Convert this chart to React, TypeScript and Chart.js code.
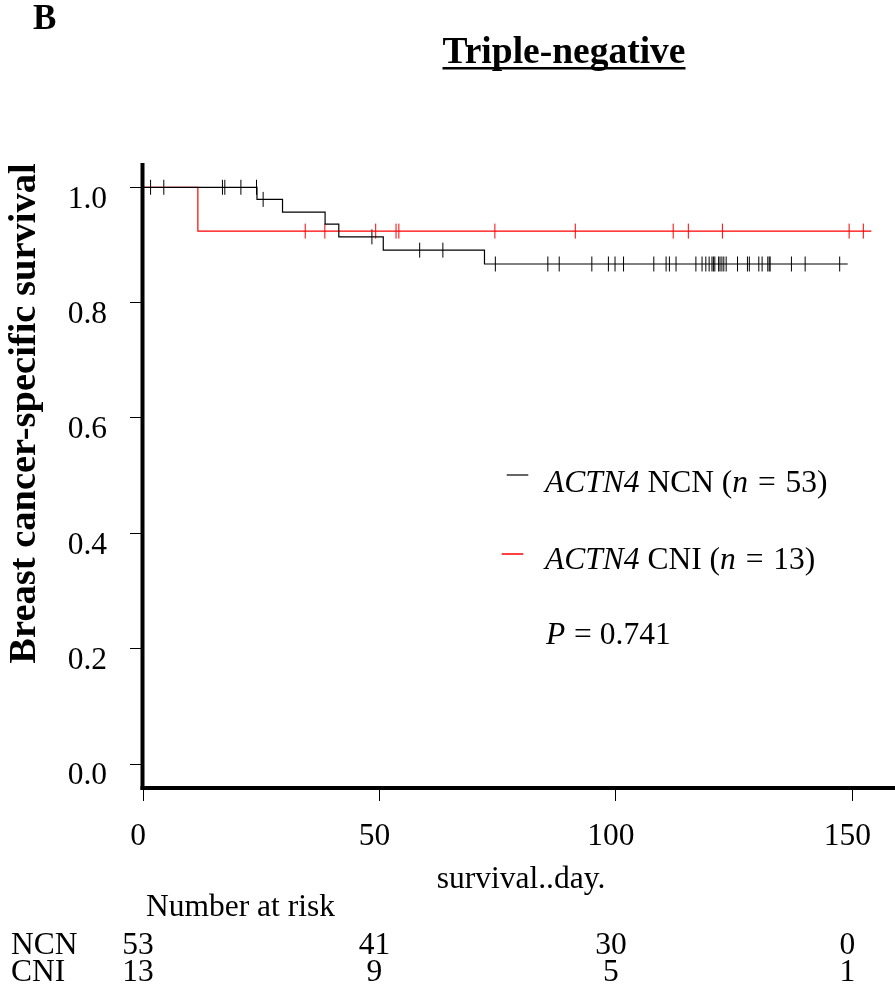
import React, { useEffect, useRef } from "react";
import { Chart, registerables } from "chart.js";

Chart.register(...registerables);

const SERIF = "'Liberation Serif', 'Times New Roman', Times, serif";

// Axis ticks
const X_TICKS = [0, 50, 100, 150];
const Y_TICKS = [0, 0.2, 0.4, 0.6, 0.8, 1.0];

// ACTN4 NCN (black) Kaplan-Meier steps
const NCN_TIMES = [0, 24.1, 29.5, 38.5, 41.4, 50.8, 72.2, 149.0];
const NCN_SURV = [1, 0.979, 0.957, 0.936, 0.914, 0.891, 0.867, 0.867];
const NCN_CENSOR = [
  1.6, 4.4, 16.8, 17.3, 20.7, 24.0, 25.4, 48.4, 58.5, 63.4, 74.5, 85.6, 88.0,
  94.9, 98.4, 99.8, 101.6, 108.0, 110.6, 111.3, 112.7, 116.9, 118.2, 119.0,
  119.7, 120.3, 120.6, 120.9, 121.7, 122.0, 122.4, 122.8, 123.3, 125.7, 127.8,
  128.2, 130.2, 130.9, 132.1, 132.4, 132.6, 137.1, 140.0, 147.3,
];

// ACTN4 CNI (red) Kaplan-Meier steps
const CNI_TIMES = [0, 11.6, 154.0];
const CNI_SURV = [1, 0.924, 0.924];
const CNI_CENSOR = [34.3, 38.45, 49.2, 53.5, 54.1, 74.4, 91.4, 112.1, 115.3, 122.5, 149.3, 152.3];

// Number at risk table
const RISK_TIMES = [0, 50, 100, 150];
const RISK_NCN = [53, 41, 30, 0];
const RISK_CNI = [13, 9, 5, 1];

function survAt(times: number[], surv: number[], t: number): number {
  let v = surv[0];
  for (let i = 0; i < times.length; i++) {
    if (times[i] <= t) v = surv[i];
  }
  return v;
}

type Part = { text: string; italic?: boolean; gapAfter?: number };

function drawRich(ctx: CanvasRenderingContext2D, parts: Part[], x: number, y: number, size: number) {
  let cx = x;
  ctx.textAlign = "left";
  ctx.textBaseline = "alphabetic";
  for (const p of parts) {
    ctx.font = `${p.italic ? "italic " : ""}${size}px ${SERIF}`;
    ctx.fillText(p.text, cx, y);
    cx += ctx.measureText(p.text).width + (p.gapAfter || 0);
  }
}

const FS = 31.5;

const decorPlugin = {
  id: "decor",
  afterDraw(chart: any) {
    const ctx: CanvasRenderingContext2D = chart.ctx;
    const xs = chart.scales.x;
    const area = chart.chartArea;
    ctx.save();
    // L-shaped axes
    ctx.strokeStyle = "#000";
    ctx.lineWidth = 4;
    ctx.lineCap = "butt";
    const ax = xs.getPixelForValue(0) - 0.5;
    ctx.beginPath();
    ctx.moveTo(ax, area.top);
    ctx.lineTo(ax, area.bottom + 2);
    ctx.stroke();
    ctx.beginPath();
    ctx.moveTo(ax - 2, area.bottom);
    ctx.lineTo(chart.width, area.bottom);
    ctx.stroke();

    ctx.fillStyle = "#000";
    ctx.textBaseline = "alphabetic";
    // panel letter
    ctx.font = `bold 35px ${SERIF}`;
    ctx.textAlign = "left";
    ctx.fillText("B", 33, 29);
    // title
    ctx.font = `bold 37.5px ${SERIF}`;
    ctx.textAlign = "center";
    ctx.fillText("Triple-negative", 564, 63);
    const tw = ctx.measureText("Triple-negative").width;
    ctx.fillRect(564 - tw / 2, 67, tw, 2.5);
    // y title
    ctx.save();
    ctx.translate(35, 413.5);
    ctx.rotate(-Math.PI / 2);
    ctx.font = `bold 38.5px ${SERIF}`;
    ctx.textAlign = "center";
    ctx.fillText("Breast cancer-specific survival", 0, 0);
    ctx.restore();
    // x title
    ctx.font = `${FS}px ${SERIF}`;
    ctx.textAlign = "center";
    ctx.fillText("survival..day.", 521, 888);
    // number at risk
    ctx.textAlign = "left";
    ctx.fillText("Number at risk", 146, 916);
    ctx.fillText("NCN", 11, 954);
    ctx.fillText("CNI", 11, 981);
    ctx.textAlign = "center";
    RISK_TIMES.forEach((t, i) => {
      const px = xs.getPixelForValue(t) - 5;
      ctx.fillText(String(RISK_NCN[i]), px, 954);
      ctx.fillText(String(RISK_CNI[i]), px, 981);
    });

    // legend
    ctx.lineWidth = 1.2;
    ctx.strokeStyle = "#000";
    ctx.beginPath();
    ctx.moveTo(506.7, 475);
    ctx.lineTo(528.3, 475);
    ctx.stroke();
    ctx.lineWidth = 1.5;
    ctx.strokeStyle = "#FF0000";
    ctx.beginPath();
    ctx.moveTo(501.7, 554);
    ctx.lineTo(523.3, 554);
    ctx.stroke();
    drawRich(ctx, [
      { text: "ACTN4", italic: true },
      { text: " NCN (" },
      { text: "n", italic: true, gapAfter: 2 },
      { text: " = ", gapAfter: 2 },
      { text: "53)" },
    ], 545, 491.7, FS);
    drawRich(ctx, [
      { text: "ACTN4", italic: true },
      { text: " CNI (" },
      { text: "n", italic: true, gapAfter: 2 },
      { text: " = ", gapAfter: 2 },
      { text: "13)" },
    ], 545, 569.3, FS);
    drawRich(ctx, [
      { text: "P", italic: true, gapAfter: 1 },
      { text: " = ", gapAfter: 0 },
      { text: "0.741" },
    ], 546, 644.3, FS);
    ctx.restore();
  },
};

export default function App() {
  const ref = useRef<HTMLCanvasElement | null>(null);
  useEffect(() => {
    if (!ref.current) return;
    const ncnLine = NCN_TIMES.map((t, i) => ({ x: t, y: NCN_SURV[i] }));
    const cniLine = CNI_TIMES.map((t, i) => ({ x: t, y: CNI_SURV[i] }));
    const ncnCens = NCN_CENSOR.map((t) => ({ x: t, y: survAt(NCN_TIMES, NCN_SURV, t) }));
    const cniCens = CNI_CENSOR.map((t) => ({ x: t, y: survAt(CNI_TIMES, CNI_SURV, t) }));
    const tickFont = { family: SERIF, size: FS };
    const chart = new Chart(ref.current, {
      type: "line",
      data: {
        datasets: [
          { type: "line", data: ncnLine, stepped: true, borderColor: "#000", borderWidth: 1.2, pointRadius: 0, fill: false },
          { type: "line", data: cniLine, stepped: true, borderColor: "#FF0000", borderWidth: 1.2, pointRadius: 0, fill: false },
          { type: "scatter", data: ncnCens, showLine: false, pointStyle: "line", pointRadius: 7.5, pointRotation: 90, borderColor: "#000", borderWidth: 1, backgroundColor: "#000" },
          { type: "scatter", data: cniCens, showLine: false, pointStyle: "line", pointRadius: 7.5, pointRotation: 90, borderColor: "#FF0000", borderWidth: 1, backgroundColor: "#FF0000" },
        ] as any,
      },
      options: {
        animation: false,
        responsive: false,
        maintainAspectRatio: false,
        devicePixelRatio: 1,
        events: [],
        layout: { padding: { top: 163, bottom: 140, left: 0, right: 0 } },
        plugins: { legend: { display: false }, tooltip: { enabled: false }, title: { display: false } },
        scales: {
          x: {
            type: "linear",
            min: 0,
            max: 157.2,
            afterBuildTicks: (s: any) => { s.ticks = X_TICKS.map((v) => ({ value: v })); },
            afterFit: (s: any) => { s.height = 60; s.paddingRight = 0; s.paddingLeft = 0; },
            grid: { drawOnChartArea: false, drawTicks: true, tickLength: 13, color: "#000", lineWidth: 1 },
            border: { display: false },
            ticks: { font: tickFont, color: "#000", padding: 17, labelOffset: -5, maxRotation: 0, autoSkip: false, callback: (v: any) => String(v) },
          },
          y: {
            type: "linear",
            min: -0.0416,
            max: 1.0421,
            afterBuildTicks: (s: any) => { s.ticks = Y_TICKS.map((v) => ({ value: v })); },
            afterFit: (s: any) => { s.width = 143; s.paddingTop = 0; s.paddingBottom = 0; },
            grid: { drawOnChartArea: false, drawTicks: true, tickLength: 13, color: "#000", lineWidth: 1 },
            border: { display: false },
            ticks: { font: tickFont, color: "#000", padding: 23, labelOffset: 12, autoSkip: false, callback: (v: any) => Number(v).toFixed(1) },
          },
        },
      } as any,
      plugins: [decorPlugin],
    });
    return () => chart.destroy();
  }, []);
  return (
    <div style={{ position: "absolute", left: 0, top: 0, width: 895, height: 988, background: "#fff" }}>
      <canvas ref={ref} width={895} height={988} style={{ display: "block", width: 895, height: 988 }} />
    </div>
  );
}
